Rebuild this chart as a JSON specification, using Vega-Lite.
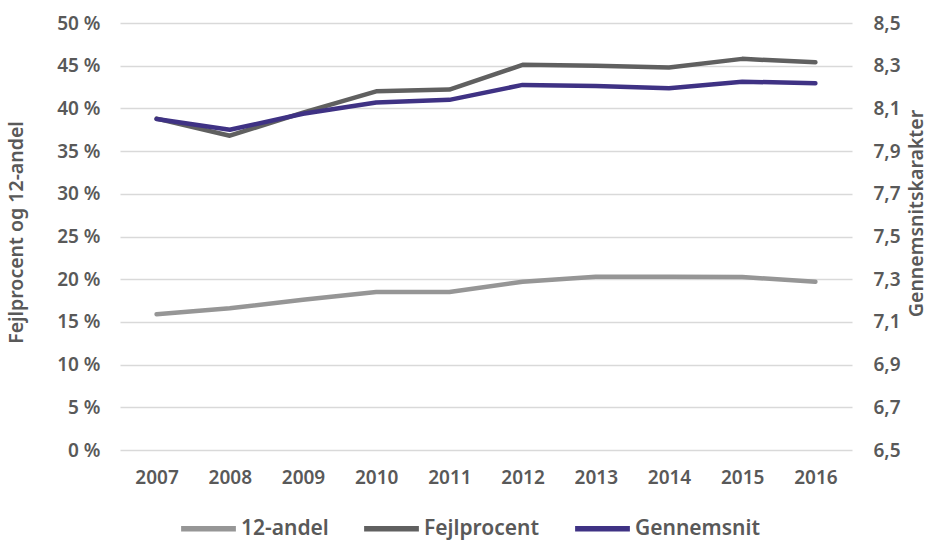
{
  "$schema": "https://vega.github.io/schema/vega-lite/v6.json",
  "width": 732,
  "height": 427,
  "autosize": {"type": "none"},
  "padding": {"left": 120, "top": 23, "right": 79, "bottom": 92},
  "background": "white",
  "config": {
    "view": {"stroke": null},
    "font": "Noto Sans",
    "axis": {"labelFont": "Noto Sans", "labelFontSize": 19, "labelColor": "#595959", "labelFontWeight": 600, "titleFont": "Noto Sans", "titleFontSize": 19.5, "titleColor": "#595959", "titleFontWeight": 600, "domain": false, "ticks": false},
    "legend": {"labelFont": "Noto Sans", "labelFontSize": 21, "labelColor": "#595959", "labelFontWeight": 600}
  },
  "data": {"values": [
    {"year": "2007", "series": "12-andel", "value": 15.9},
    {"year": "2008", "series": "12-andel", "value": 16.6},
    {"year": "2009", "series": "12-andel", "value": 17.6},
    {"year": "2010", "series": "12-andel", "value": 18.5},
    {"year": "2011", "series": "12-andel", "value": 18.5},
    {"year": "2012", "series": "12-andel", "value": 19.7},
    {"year": "2013", "series": "12-andel", "value": 20.3},
    {"year": "2014", "series": "12-andel", "value": 20.3},
    {"year": "2015", "series": "12-andel", "value": 20.25},
    {"year": "2016", "series": "12-andel", "value": 19.7},
    {"year": "2007", "series": "Fejlprocent", "value": 38.8},
    {"year": "2008", "series": "Fejlprocent", "value": 36.8},
    {"year": "2009", "series": "Fejlprocent", "value": 39.5},
    {"year": "2010", "series": "Fejlprocent", "value": 42.0},
    {"year": "2011", "series": "Fejlprocent", "value": 42.2},
    {"year": "2012", "series": "Fejlprocent", "value": 45.1},
    {"year": "2013", "series": "Fejlprocent", "value": 45.0},
    {"year": "2014", "series": "Fejlprocent", "value": 44.8},
    {"year": "2015", "series": "Fejlprocent", "value": 45.8},
    {"year": "2016", "series": "Fejlprocent", "value": 45.4},
    {"year": "2007", "series": "Gennemsnit", "value": 8.05},
    {"year": "2008", "series": "Gennemsnit", "value": 8.0},
    {"year": "2009", "series": "Gennemsnit", "value": 8.075},
    {"year": "2010", "series": "Gennemsnit", "value": 8.128},
    {"year": "2011", "series": "Gennemsnit", "value": 8.14},
    {"year": "2012", "series": "Gennemsnit", "value": 8.21},
    {"year": "2013", "series": "Gennemsnit", "value": 8.205},
    {"year": "2014", "series": "Gennemsnit", "value": 8.194},
    {"year": "2015", "series": "Gennemsnit", "value": 8.225},
    {"year": "2016", "series": "Gennemsnit", "value": 8.218}
  ]},
  "encoding": {
    "x": {"field": "year", "type": "ordinal", "scale": {"paddingInner": 0, "paddingOuter": 0},
      "axis": {"title": null, "labelAngle": 0, "labelPadding": 18, "grid": false}},
    "color": {"field": "series", "type": "nominal",
      "scale": {"domain": ["12-andel", "Fejlprocent", "Gennemsnit"], "range": ["#969696", "#606060", "#3f3284"]},
      "legend": {"title": null, "orient": "none", "direction": "horizontal", "legendX": 58, "legendY": 475, "symbolType": "stroke", "symbolSize": 3000, "symbolStrokeWidth": 5.5, "labelOffset": 2, "columnPadding": 24}}
  },
  "layer": [
    {
      "transform": [{"filter": "datum.series !== 'Gennemsnit'"}],
      "mark": {"type": "line", "strokeWidth": 4.5, "strokeCap": "round", "strokeJoin": "round"},
      "encoding": {
        "y": {"field": "value", "type": "quantitative", "scale": {"domain": [0, 50]},
          "axis": {"title": "Fejlprocent og 12-andel", "values": [0,5,10,15,20,25,30,35,40,45,50], "labelExpr": "datum.value + ' %'", "labelPadding": 20, "titlePadding": 30, "titleY": 209, "grid": true, "gridColor": "#d9d9d9", "gridWidth": 1.5}}
      }
    },
    {
      "transform": [{"filter": "datum.series === 'Gennemsnit'"}],
      "mark": {"type": "line", "strokeWidth": 4.5, "strokeCap": "round", "strokeJoin": "round"},
      "encoding": {
        "y": {"field": "value", "type": "quantitative", "scale": {"domain": [6.5, 8.5], "zero": false},
          "axis": {"orient": "right", "title": "Gennemsnitskarakter", "titleAngle": -90, "titleY": 190, "values": [6.5,6.7,6.9,7.1,7.3,7.5,7.7,7.9,8.1,8.3,8.5], "labelExpr": "replace(format(datum.value, '.1f'), '.', ',')", "labelPadding": 21, "titlePadding": 26, "grid": false}}
      }
    }
  ],
  "resolve": {"scale": {"y": "independent"}}
}
